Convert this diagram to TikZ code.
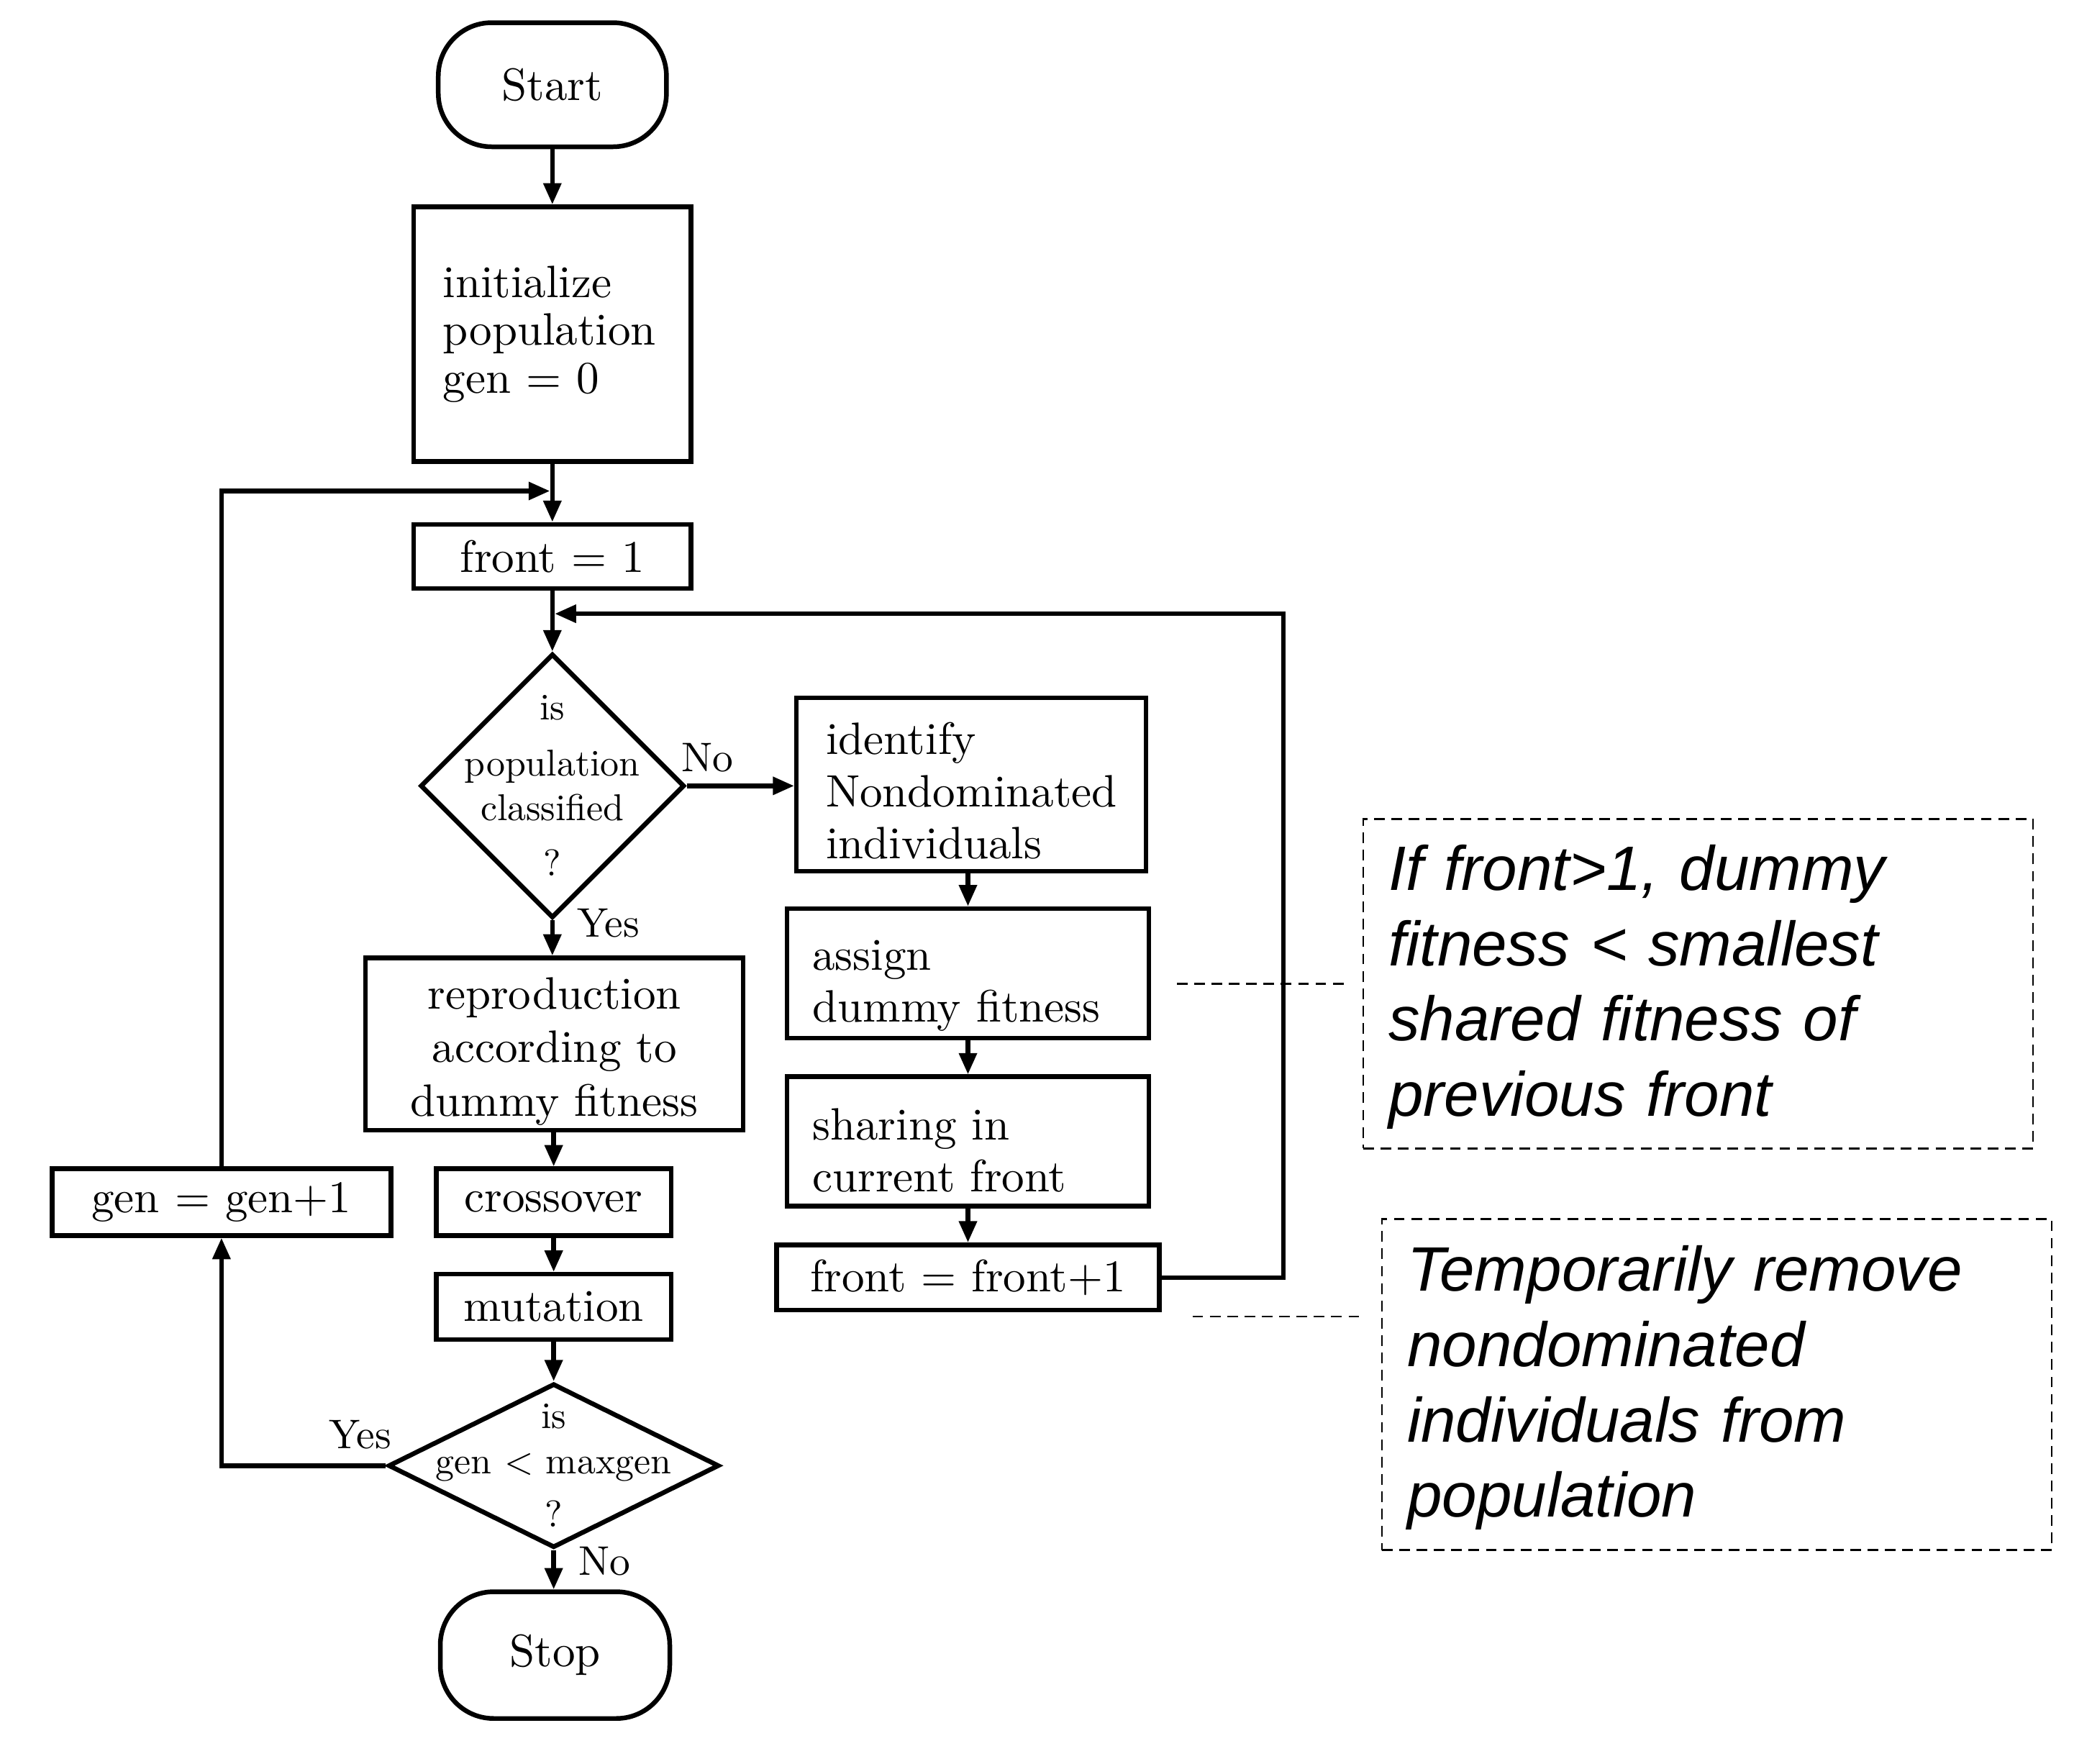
\documentclass[tikz,border=0pt]{standalone}
\usepackage{fontspec}
\newfontfamily\cmfont{lmroman10-regular.otf}
\newfontfamily\notefont{Liberation Sans}
\usetikzlibrary{arrows.meta,shapes.geometric,calc}
\newcommand\topgap[1]{\rule{0pt}{#1}}
\tikzset{
  box/.style={draw, line width=3.5pt, font=\cmfont\fontsize{34}{39}\selectfont, inner ysep=2pt},
  term/.style={box, rounded corners=40pt},
  dia/.style={draw, diamond, line width=3.5pt, inner sep=0pt},
  dtext/.style={font=\cmfont\fontsize{28}{33}\selectfont, align=center, inner sep=0pt},
  lab/.style={font=\cmfont\fontsize{31}{36}\selectfont, inner sep=0pt},
  arr/.style={line width=3.5pt, -{Triangle[length=16pt,width=13pt]}},
  dline/.style={line width=1.5pt, dash pattern=on 8pt off 5pt},
  note/.style={draw, line width=1.5pt, dash pattern=on 8pt off 5pt,
    font=\notefont\itshape\fontsize{47}{56.5}\selectfont, align=left,
    anchor=north west, inner xsep=19pt},
}
\begin{document}
\begin{tikzpicture}[x=1pt,y=-1pt]
\path[use as bounding box, fill=white] (0,0) rectangle (1568,1322.1);

% left/main column
\node[term, minimum width=171pt, minimum height=93pt] (start) at (414,63.5) {Start};
\node[box, minimum height=191pt, text width=164pt, align=left, inner xsep=22pt,
      font=\cmfont\fontsize{34}{36}\selectfont] (init) at (414,250.5) {initialize\\population\\gen = 0};
\node[box, minimum width=208pt, minimum height=48pt] (f1) at (414,417) {front = 1};
\node[dia, minimum width=198pt, minimum height=198pt] (d1) at (414,589) {};
\node[dtext] (d1t) at (d1) {is\\[9pt]population\\classified\\[9pt]?};
\node[box, minimum width=283pt, minimum height=129pt, align=center,
      font=\cmfont\fontsize{34}{40}\selectfont] (repro) at (415.5,782.5) {\topgap{34.6pt}reproduction\\according to\\dummy fitness};
\node[box, minimum width=176pt, minimum height=50pt] (cross) at (415,901) {crossover};
\node[box, minimum width=176pt, minimum height=49pt] (mut) at (415,979.5) {mutation};
\node[dia, minimum width=248pt, minimum height=123pt] (d2) at (415,1098.5) {};
\node[dtext, font=\cmfont\fontsize{28}{34}\selectfont] (d2t) at (d2) {is\\gen < maxgen\\[6pt]?};
\node[term, minimum width=172pt, minimum height=95pt] (stop) at (416,1240.5) {Stop};
\node[box, minimum width=254pt, minimum height=50pt] (gen) at (166,901) {gen = gen+1};

% right column
\node[box, minimum height=130pt, text width=218pt, align=left, inner xsep=22pt] (ident) at (728,588) {\topgap{33.6pt}identify\\Nondominated\\individuals};
\node[box, minimum height=97pt, text width=233pt, align=left, inner xsep=19pt] (assign) at (725.5,729.5) {\topgap{40.7pt}assign\\dummy fitness};
\node[box, minimum height=97pt, text width=233pt, align=left, inner xsep=19pt] (share) at (725.5,855.5) {\topgap{36.6pt}sharing in\\current front};
\node[box, minimum width=287pt, minimum height=49pt] (fp) at (725.5,957.5) {front = front+1};

% labels
\node[lab] (no1) at (530,568) {No};
\node[lab] (yes1) at (456,692) {Yes};
\node[lab] (yes2) at (270,1075) {Yes};
\node[lab] (no2) at (453,1170) {No};

% notes
\node[note, text width=464pt, minimum height=247pt] (note1) at (1021,613)
  {\topgap{39pt}If front>1, dummy\\fitness < smallest\\shared fitness of\\previous front};
\node[note, text width=464pt, minimum height=248pt] (note2) at (1035,913)
  {\topgap{39pt}Temporarily remove\\nondominated\\individuals from\\population};

% connectors
\coordinate (j1) at (412.2,368);
\coordinate (j2) at (415.8,460);
\coordinate (rc) at (962,460);
\draw[arr] (start.south) -- (init.north);
\draw[arr] (init.south) -- (f1.north);
\draw[arr] (gen.north) |- (j1);
\draw[arr] (f1.south) -- (d1.north);
\draw[arr] (fp.east) -| (rc) -- (j2);
\draw[arr] (d1.east) -- (ident.west |- d1.east);
\draw[arr] (assign.north |- ident.south) -- (assign.north);
\draw[arr] (assign.south) -- (share.north);
\draw[arr] (share.south) -- (fp.north);
\draw[arr] (d1.south) -- (d1.south |- repro.north);
\draw[arr] (cross.north |- repro.south) -- (cross.north);
\draw[arr] (cross.south) -- (mut.north);
\draw[arr] (mut.south) -- (d2.north);
\draw[arr] (d2.south) -- (d2.south |- stop.north);
\draw[arr] (d2.west) -| (gen.south);

% dashed pointers
\draw[dline] ($(note1.west)+(-14,0)$) -- ($(assign.east |- note1.west)+(17,0)$);
\coordinate (c2) at ($(fp.south east)+(23,3)$);
\draw[dline] (c2) -- ($(c2 -| note2.west)+(-14,0)$);
\end{tikzpicture}
\end{document}
